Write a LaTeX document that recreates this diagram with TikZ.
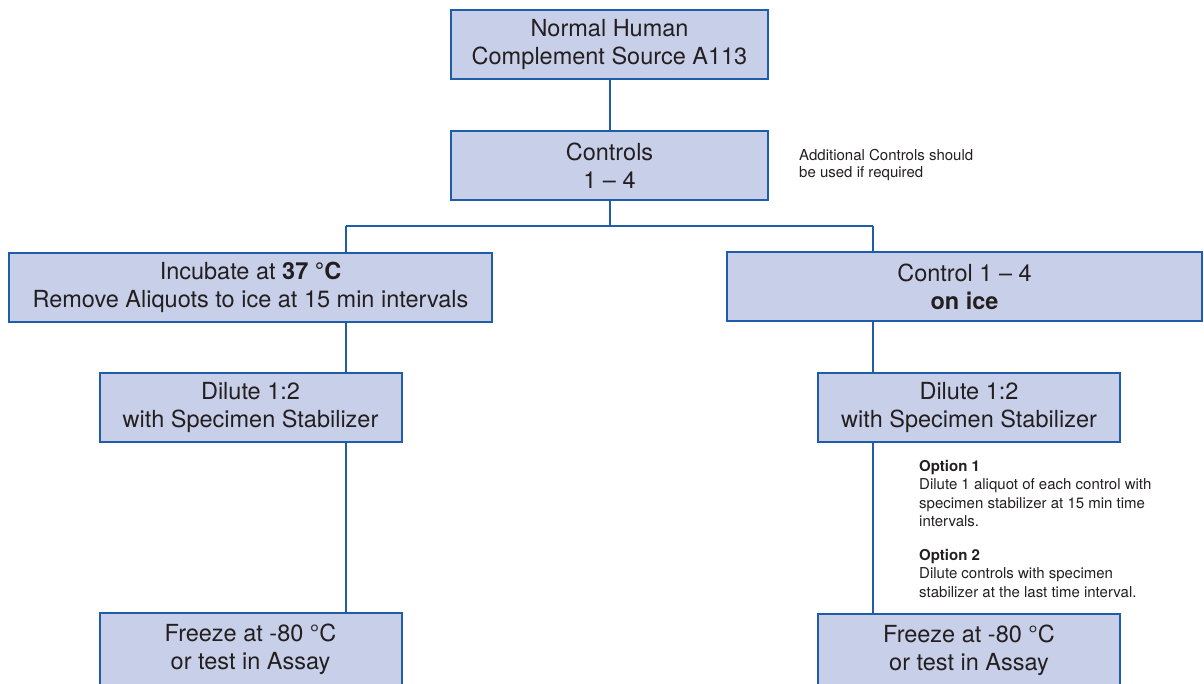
\documentclass[tikz,border=0pt]{standalone}
\usepackage{fontspec}
\setmainfont{TeX Gyre Heros}
\definecolor{BoxFill}{HTML}{C8CFE8}
\definecolor{LineBlue}{HTML}{1F5DAA}
\definecolor{InkGrey}{HTML}{231F20}
\usetikzlibrary{positioning}

\begin{document}
\begin{tikzpicture}[
  x=1pt, y=-1pt,
  stepbox/.style={rectangle, draw=LineBlue, fill=BoxFill, line width=2pt, outer sep=0pt, inner sep=0pt, text=InkGrey, align=center, minimum height=69pt, font=\fontsize{23.5}{28}\selectfont},
  wide/.style={stepbox, minimum width=483pt},
  mid/.style={stepbox, minimum width=317pt},
  small/.style={stepbox, minimum width=302pt},
  note/.style={anchor=north west, inner sep=0pt, align=left, text=InkGrey},
  link/.style={draw=LineBlue, line width=2pt}
]
  \useasboundingbox (0,0) rectangle (1204,683);

  % Top of the chain
  \node[mid] (source) at (609.5,44.5) {Normal Human\\Complement Source A113};
  \node[mid, below=52pt of source] (controls) {Controls\\1 -- 4};
  \node[note, font=\fontsize{15}{17}\selectfont] (addnote) at (799,149) {Additional Controls should\\be used if required};

  % Two branches
  \node[wide] (incubate) at (250.5,287.5) {Incubate at \textbf{37 °C}\\Remove Aliquots to ice at 15 min intervals};
  \node[wide, minimum width=475pt] (onice) at (964.5,286.5) {Control 1 -- 4\\\textbf{on ice}};

  \node[small, below=52pt of incubate, yshift=1pt] (diluteL) {Dilute 1:2\\with Specimen Stabilizer};
  \node[small, below=171pt of diluteL, minimum height=72pt] (freezeL) {Freeze at -80 °C\\or test in Assay};
  \node[small, below=52pt of onice, xshift=4.5pt] (diluteR) {Dilute 1:2\\with Specimen Stabilizer};
  \node[small, below=172pt of diluteR, minimum height=72pt] (freezeR) {Freeze at -80 °C\\or test in Assay};

  \node[note, font=\fontsize{15}{18.5}\selectfont] (options) at (919,460) {\textbf{Option 1}\\Dilute 1 aliquot of each control with\\specimen stabilizer at 15 min time\\intervals.\\[15pt]\textbf{Option 2}\\Dilute controls with specimen\\stabilizer at the last time interval.};

  % Connectors
  \coordinate (lx) at (346,0);
  \coordinate (rx) at (873,0);
  \draw[link] (source) -- (controls);
  \draw[link] (controls.south) -- ++(0,26) coordinate (fork);
  \draw[link] (fork -| lx) -- (fork -| rx);
  \draw[link] (fork -| lx) -- (incubate.north -| lx);
  \draw[link] (fork -| rx) -- (onice.north -| rx);
  \draw[link] (incubate.south -| lx) -- (diluteL.north -| lx);
  \draw[link] (diluteL.south -| lx) -- (freezeL.north -| lx);
  \draw[link] (onice.south -| rx) -- (diluteR.north -| rx);
  \draw[link] (diluteR.south -| rx) -- (freezeR.north -| rx);
\end{tikzpicture}
\end{document}
